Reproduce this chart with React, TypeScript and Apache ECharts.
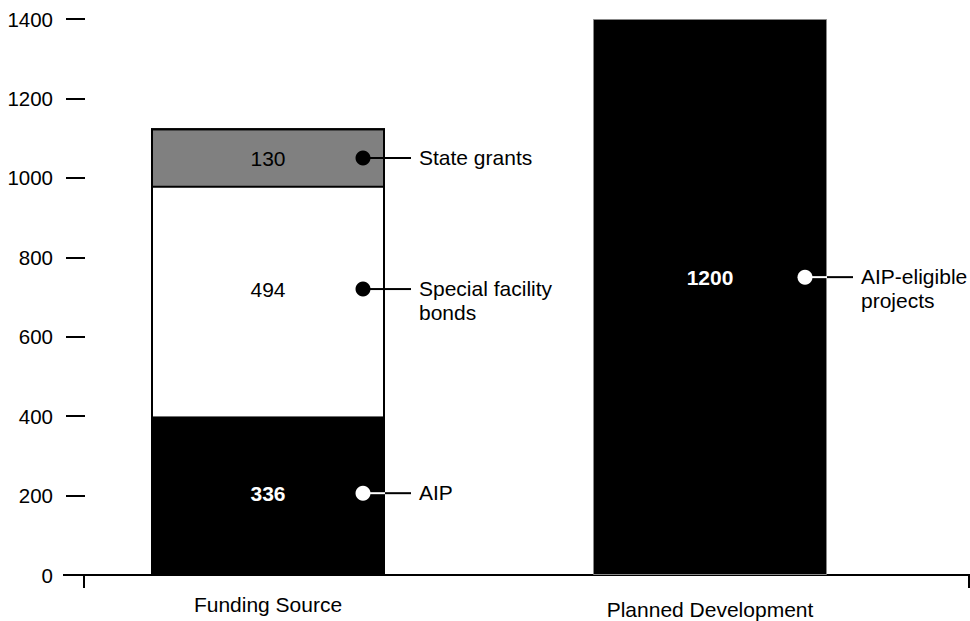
import React, { useEffect, useRef } from "react";
import * as echarts from "echarts";

const categories = ["Funding Source", "Planned Development"];
// Bar segment heights as drawn (the picture is not to scale with its labels)
const aipHeights = [400, null];
const bondHeights = [575, null];
const stateHeights = [150, null];
const plannedHeights = [null, 1400];
const fundingTotal = [1125, null];

// Printed values and annotations
const annCategory = [0, 0, 0, 1];
const annY = [1050, 720, 206, 750];
const annValueText = ["130", "494", "336", "1200"];
const annNames = ["State grants", "Special facility\nbonds", "AIP", "AIP-eligible\nprojects"];
const annDark = [false, false, true, true];

const yTicks = { min: 0, max: 1400, interval: 200 };

const FONT = "'Liberation Sans', Arial, Helvetica, sans-serif";

export default function App() {
  const ref = useRef<HTMLDivElement>(null);
  useEffect(() => {
    const chart = echarts.init(ref.current!, null, { renderer: "svg" });
    const annData = annY.map((y, i) => [annCategory[i], y, i]);
    chart.setOption({
      animation: false,
      backgroundColor: "#fff",
      grid: { left: 47, right: 39, top: 19, bottom: 46 },
      xAxis: {
        type: "category",
        data: [
          categories[0],
          { value: categories[1], textStyle: { padding: [5, 0, 0, 0] } },
        ],
        axisLine: { show: false },
        axisTick: { show: false },
        axisLabel: { color: "#000", fontSize: 21, fontFamily: FONT, margin: 19 },
      },
      yAxis: {
        type: "value",
        min: yTicks.min,
        max: yTicks.max,
        interval: yTicks.interval,
        offset: -19,
        axisLine: { show: false },
        axisTick: { show: true, inside: true, length: 19, lineStyle: { color: "#000", width: 2 } },
        axisLabel: {
          color: "#000", fontSize: 20.5, fontFamily: FONT, margin: 13,
          formatter: (v: number) => String(v),
        },
        splitLine: { show: false },
      },
      series: [
        {
          type: "bar", stack: "s", barWidth: 234, barGap: "-100%", data: aipHeights,
          itemStyle: { color: "#000" },
        },
        {
          type: "bar", stack: "s", barWidth: 234, barGap: "-100%", data: bondHeights,
          itemStyle: { color: "#fff" },
        },
        {
          type: "bar", stack: "s", barWidth: 234, barGap: "-100%", data: stateHeights,
          itemStyle: { color: "#808080", borderColor: "#000", borderWidth: 2 },
        },
        {
          type: "bar", stack: "s", barWidth: 234, barGap: "-100%", data: plannedHeights,
          itemStyle: { color: "#000", borderColor: "#888", borderWidth: 1 },
        },
        {
          type: "bar", stack: "o", barWidth: 234, barGap: "-100%", data: fundingTotal,
          z: 3,
          itemStyle: { color: "rgba(0,0,0,0)", borderColor: "#000", borderWidth: 2 },
        },
        {
          type: "custom",
          z: 10,
          data: annData,
          renderItem: (params: any, api: any) => {
            const i = api.value(2);
            const p = api.coord([api.value(0), api.value(1)]);
            const cx = p[0], cy = p[1];
            const dark = annDark[i];
            const dotColor = dark ? "#fff" : "#000";
            return {
              type: "group",
              children: [
                {
                  type: "text", x: cx, y: cy,
                  style: {
                    text: annValueText[i], fill: dark ? "#fff" : "#000",
                    fontSize: 21, fontFamily: FONT, fontWeight: dark ? "bold" : "normal",
                    align: "center", verticalAlign: "middle",
                  },
                },
                {
                  type: "line",
                  shape: { x1: cx + 95, y1: cy, x2: cx + 117, y2: cy },
                  style: { stroke: dotColor, lineWidth: 2 },
                },
                {
                  type: "line",
                  shape: { x1: cx + 117, y1: cy, x2: cx + 143, y2: cy },
                  style: { stroke: "#000", lineWidth: 2 },
                },
                {
                  type: "circle",
                  shape: { cx: cx + 95, cy: cy, r: 7.5 },
                  style: { fill: dotColor },
                },
                {
                  type: "text", x: cx + 151, y: cy - 12.5,
                  style: {
                    text: annNames[i], fill: "#000", fontSize: 21, fontFamily: FONT,
                    lineHeight: 24, align: "left", verticalAlign: "top",
                  },
                },
              ],
            };
          },
        },
      ],
    });
    const y0 = chart.convertToPixel({ yAxisIndex: 0 }, 0) as number;
    chart.setOption({
      graphic: [
        { type: "line", shape: { x1: 63, y1: y0, x2: 970, y2: y0 }, style: { stroke: "#000", lineWidth: 2 } },
        { type: "line", shape: { x1: 84, y1: y0, x2: 84, y2: y0 + 13 }, style: { stroke: "#000", lineWidth: 2 } },
        { type: "line", shape: { x1: 969, y1: y0, x2: 969, y2: y0 + 13 }, style: { stroke: "#000", lineWidth: 2 } },
      ],
    });
    return () => chart.dispose();
  }, []);
  return (
    <div
      ref={ref}
      style={{ position: "fixed", left: 0, top: 0, width: 970, height: 621, background: "#fff" }}
    />
  );
}
